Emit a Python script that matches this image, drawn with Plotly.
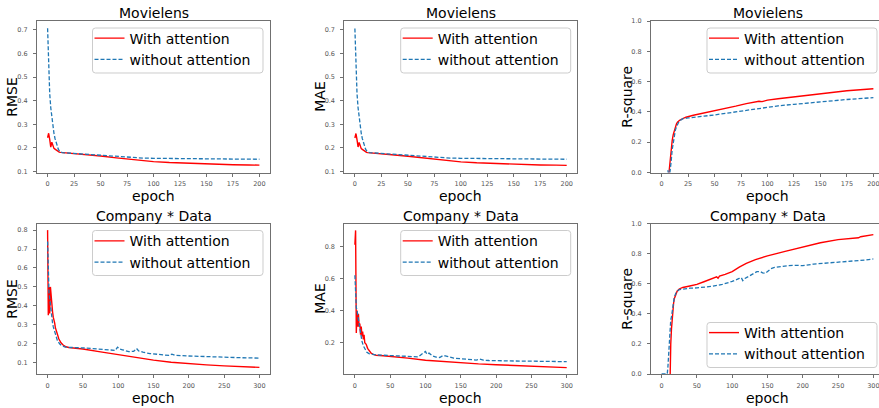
import plotly.graph_objects as go

# ---------------- data ----------------
# Movielens RMSE
ml_rmse_att_x = [0, 1, 2, 3, 4, 5, 6, 7, 8, 9, 10, 11, 12, 15, 20, 25, 35, 50, 65, 75, 90, 100, 115, 125, 140, 150, 165, 175, 190, 200]
ml_rmse_att_y = [0.243, 0.262, 0.236, 0.203, 0.224, 0.205, 0.198, 0.195, 0.191, 0.187, 0.184, 0.182, 0.181, 0.180, 0.179, 0.177, 0.172, 0.166, 0.158, 0.153, 0.146, 0.142, 0.138, 0.136, 0.133, 0.132, 0.130, 0.129, 0.128, 0.127]
ml_rmse_no_x = [0, 1, 2, 3, 4, 5, 6, 7, 8, 9, 10, 11, 12, 14, 17, 20, 25, 35, 50, 65, 75, 90, 100, 125, 150, 175, 200]
ml_rmse_no_y = [0.706, 0.52, 0.43, 0.37, 0.325, 0.29, 0.262, 0.24, 0.222, 0.207, 0.196, 0.188, 0.183, 0.180, 0.179, 0.178, 0.177, 0.174, 0.169, 0.164, 0.161, 0.157, 0.156, 0.154, 0.153, 0.153, 0.152]

# Movielens MAE
ml_mae_att_x = [0, 1, 2, 3, 4, 5, 6, 7, 8, 9, 10, 11, 12, 15, 20, 25, 35, 50, 65, 75, 90, 100, 115, 125, 140, 150, 165, 175, 190, 200]
ml_mae_att_y = [0.242, 0.261, 0.235, 0.204, 0.223, 0.204, 0.197, 0.194, 0.190, 0.186, 0.183, 0.181, 0.180, 0.179, 0.178, 0.176, 0.171, 0.165, 0.157, 0.152, 0.145, 0.141, 0.137, 0.135, 0.132, 0.131, 0.129, 0.128, 0.127, 0.126]
ml_mae_no_x = [0, 1, 2, 3, 4, 5, 6, 7, 8, 9, 10, 11, 12, 14, 17, 20, 25, 35, 50, 65, 75, 90, 100, 125, 150, 175, 200]
ml_mae_no_y = [0.705, 0.52, 0.43, 0.37, 0.325, 0.29, 0.262, 0.24, 0.222, 0.207, 0.196, 0.188, 0.183, 0.180, 0.179, 0.178, 0.177, 0.174, 0.169, 0.164, 0.161, 0.157, 0.156, 0.154, 0.153, 0.153, 0.152]

# Movielens R-square
ml_r2_att_x = [0, 4, 6, 7, 8, 9, 10, 11, 12, 13, 14, 15, 17, 20, 23, 30, 40, 50, 60, 70, 80, 88, 92, 95, 100, 110, 125, 150, 175, 200]
ml_r2_att_y = [-3.0, -1.0, -0.3, 0.0, 0.08, 0.15, 0.21, 0.25, 0.28, 0.305, 0.32, 0.332, 0.345, 0.355, 0.365, 0.378, 0.392, 0.405, 0.42, 0.438, 0.455, 0.468, 0.47, 0.468, 0.478, 0.487, 0.5, 0.522, 0.54, 0.553]
ml_r2_no_x = [0, 5, 6, 7, 8, 9, 10, 11, 12, 13, 14, 15, 16, 18, 20, 25, 30, 40, 50, 60, 75, 90, 100, 110, 125, 150, 175, 200]
ml_r2_no_y = [-3.0, -0.2, 0.015, -0.05, 0.0, 0.07, 0.15, 0.2, 0.25, 0.28, 0.3, 0.315, 0.33, 0.345, 0.355, 0.36, 0.365, 0.372, 0.38, 0.39, 0.407, 0.423, 0.433, 0.44, 0.45, 0.468, 0.482, 0.494]

# Company * Data RMSE
cd_rmse_att_x = [0, 1, 2, 3, 4, 5, 6, 7, 8, 9, 10, 11, 12, 14, 16, 19, 22, 26, 30, 40, 50, 75, 100, 125, 150, 175, 200, 225, 250, 275, 300]
cd_rmse_att_y = [0.80, 0.35, 0.50, 0.36, 0.50, 0.44, 0.40, 0.37, 0.34, 0.31, 0.31, 0.285, 0.27, 0.245, 0.225, 0.205, 0.193, 0.184, 0.180, 0.176, 0.172, 0.157, 0.141, 0.126, 0.113, 0.102, 0.094, 0.088, 0.083, 0.079, 0.075]
cd_rmse_no_x = [0, 1, 2, 3, 4, 5, 6, 7, 8, 9, 10, 12, 14, 17, 20, 25, 30, 40, 50, 60, 75, 90, 96, 99, 102, 106, 115, 122, 126, 129, 135, 145, 160, 172, 176, 180, 200, 225, 250, 275, 300]
cd_rmse_no_y = [0.74, 0.55, 0.47, 0.44, 0.40, 0.36, 0.34, 0.31, 0.29, 0.275, 0.26, 0.235, 0.215, 0.2, 0.19, 0.182, 0.18, 0.179, 0.178, 0.175, 0.171, 0.163, 0.165, 0.182, 0.172, 0.168, 0.158, 0.160, 0.175, 0.162, 0.155, 0.148, 0.141, 0.138, 0.145, 0.139, 0.135, 0.131, 0.128, 0.126, 0.124]

# Company * Data MAE
cd_mae_att_x = [0, 1, 2, 3, 4, 5, 6, 7, 8, 9, 10, 11, 12, 13, 14, 16, 18, 20, 23, 26, 30, 40, 50, 75, 100, 125, 150, 175, 200, 225, 250, 275, 300]
cd_mae_att_y = [0.81, 0.90, 0.26, 0.40, 0.30, 0.38, 0.30, 0.32, 0.25, 0.30, 0.24, 0.27, 0.22, 0.25, 0.20, 0.19, 0.165, 0.15, 0.135, 0.127, 0.122, 0.119, 0.116, 0.104, 0.091, 0.082, 0.074, 0.068, 0.063, 0.058, 0.053, 0.049, 0.045]
cd_mae_no_x = [0, 1, 2, 3, 4, 5, 6, 7, 8, 9, 10, 12, 14, 17, 20, 25, 30, 40, 50, 60, 75, 90, 95, 98, 100, 102, 105, 110, 115, 120, 125, 128, 132, 140, 150, 165, 172, 177, 182, 190, 200, 225, 250, 275, 300]
cd_mae_no_y = [0.62, 0.5, 0.42, 0.40, 0.37, 0.33, 0.30, 0.27, 0.245, 0.23, 0.21, 0.18, 0.16, 0.14, 0.132, 0.127, 0.124, 0.122, 0.120, 0.118, 0.114, 0.112, 0.13, 0.14, 0.145, 0.128, 0.135, 0.118, 0.11, 0.108, 0.12, 0.118, 0.112, 0.104, 0.10, 0.095, 0.092, 0.097, 0.091, 0.089, 0.087, 0.086, 0.085, 0.083, 0.082]

# Company * Data R-square
cd_r2_att_x = [0, 10, 11, 12, 13, 14, 15, 16, 17, 18, 20, 22, 25, 30, 40, 50, 60, 70, 75, 78, 80, 82, 90, 100, 110, 120, 133, 150, 175, 200, 225, 250, 265, 275, 279, 282, 290, 300]
cd_r2_att_y = [-3.0, -0.5, -0.05, 0.08, 0.2, 0.3, 0.38, 0.43, 0.47, 0.5, 0.53, 0.55, 0.565, 0.575, 0.585, 0.595, 0.613, 0.632, 0.642, 0.645, 0.636, 0.65, 0.662, 0.68, 0.71, 0.735, 0.76, 0.785, 0.815, 0.845, 0.872, 0.893, 0.90, 0.902, 0.905, 0.912, 0.918, 0.926]
cd_r2_no_x = [0, 5, 8, 9, 10, 11, 12, 13, 14, 15, 16, 18, 20, 22, 25, 30, 40, 50, 60, 72, 86, 100, 110, 113, 115, 118, 122, 130, 135, 140, 143, 147, 150, 155, 160, 170, 180, 190, 200, 215, 230, 255, 275, 290, 300]
cd_r2_no_y = [0.0, 0.0, 0.0, 0.05, 0.15, 0.25, 0.3, 0.36, 0.38, 0.42, 0.46, 0.51, 0.535, 0.55, 0.56, 0.565, 0.57, 0.572, 0.576, 0.583, 0.595, 0.615, 0.635, 0.64, 0.62, 0.635, 0.645, 0.665, 0.68, 0.68, 0.672, 0.67, 0.68, 0.7, 0.708, 0.715, 0.72, 0.722, 0.72, 0.73, 0.735, 0.745, 0.752, 0.758, 0.765]

titles = ["Movielens", "Movielens", "Movielens", "Company * Data", "Company * Data", "Company * Data"]
ylabels = ["RMSE", "MAE", "R-square", "RMSE", "MAE", "R-square"]
xlabel = "epoch"
series_names = ["With attention", "without attention"]

xt_top = [0, 25, 50, 75, 100, 125, 150, 175, 200]
xt_bot = [0, 50, 100, 150, 200, 250, 300]
yt_err_top = [0.1, 0.2, 0.3, 0.4, 0.5, 0.6, 0.7]
yt_rmse_bot = [0.1, 0.2, 0.3, 0.4, 0.5, 0.6, 0.7, 0.8]
yt_mae_bot = [0.2, 0.4, 0.6, 0.8]
yt_r2 = [0.0, 0.2, 0.4, 0.6, 0.8, 1.0]

# ---------------- layout helpers ----------------
W, H = 879, 408
FONT = "DejaVu Sans"
RED = "#ff0000"
BLUE = "#1f77b4"
SPINE = "#707070"

def fx(p):
    return p / W

def fy(p):
    return 1 - p / H

def round_box(x0, y0, x1, y1, r=3):
    # rounded rectangle path in paper coordinates (pixel inputs)
    pts = [
        ("M", x0 + r, y0), ("L", x1 - r, y0), ("Q", x1, y0, x1, y0 + r),
        ("L", x1, y1 - r), ("Q", x1, y1, x1 - r, y1), ("L", x0 + r, y1),
        ("Q", x0, y1, x0, y1 - r), ("L", x0, y0 + r), ("Q", x0, y0, x0 + r, y0),
    ]
    out = []
    for cmd in pts:
        c = cmd[0]
        vals = cmd[1:]
        coords = []
        for k in range(0, len(vals), 2):
            coords.append("%.5f,%.5f" % (fx(vals[k]), fy(vals[k + 1])))
        out.append(c + " " + " ".join(coords))
    return " ".join(out) + " Z"

cols = [(37, 270), (344.3, 577.3), (651, 879)]
rows = [(21, 172.5), (223.5, 374)]

panels = [
    dict(att=(ml_rmse_att_x, ml_rmse_att_y), no=(ml_rmse_no_x, ml_rmse_no_y), c=0, r=0,
         xr=[-10, 210], yr=[0.096, 0.737], xt=xt_top, yt=yt_err_top, box=(92.5, 28, 263, 73), e1=39.5),
    dict(att=(ml_mae_att_x, ml_mae_att_y), no=(ml_mae_no_x, ml_mae_no_y), c=1, r=0,
         xr=[-10, 210], yr=[0.096, 0.737], xt=xt_top, yt=yt_err_top, box=(400.7, 28, 570.7, 73), e1=39.5),
    dict(att=(ml_r2_att_x, ml_r2_att_y), no=(ml_r2_no_x, ml_r2_no_y), c=2, r=0,
         xr=[-10, 205.3], yr=[0, 1], xt=xt_top, yt=yt_r2, box=(707, 28, 877, 73), e1=39.5),
    dict(att=(cd_rmse_att_x, cd_rmse_att_y), no=(cd_rmse_no_x, cd_rmse_no_y), c=0, r=1,
         xr=[-15, 315], yr=[0.040, 0.835], xt=xt_bot, yt=yt_rmse_bot, box=(92.5, 230.5, 263, 275.5), e1=242.3),
    dict(att=(cd_mae_att_x, cd_mae_att_y), no=(cd_mae_no_x, cd_mae_no_y), c=1, r=1,
         xr=[-15, 315], yr=[0.005, 0.943], xt=xt_bot, yt=yt_mae_bot, box=(400.7, 230.5, 570.7, 275.5), e1=242.3),
    dict(att=(cd_r2_att_x, cd_r2_att_y), no=(cd_r2_no_x, cd_r2_no_y), c=2, r=1,
         xr=[-15, 308], yr=[0, 1], xt=xt_bot, yt=yt_r2, box=(707, 322.5, 877, 367.5), e1=334),
]

fig = go.Figure()
layout = dict(
    width=W, height=H, margin=dict(l=0, r=0, t=0, b=0, autoexpand=False),
    paper_bgcolor="white", plot_bgcolor="white",
    font=dict(family=FONT, color="black"),
    annotations=[], shapes=[],
)

for i, p in enumerate(panels):
    n = i + 1
    sfx = "" if n == 1 else str(n)
    xa, ya = "x" + sfx, "y" + sfx
    legname = "legend" + sfx
    fig.add_trace(go.Scatter(x=p["att"][0], y=p["att"][1], mode="lines", name=series_names[0],
                             line=dict(color=RED, width=1.4), xaxis=xa, yaxis=ya, legend=legname))
    fig.add_trace(go.Scatter(x=p["no"][0], y=p["no"][1], mode="lines", name=series_names[1],
                             line=dict(color=BLUE, width=1.3, dash="4px,2px"), xaxis=xa, yaxis=ya, legend=legname))
    x0, x1 = cols[p["c"]]
    y0, y1 = rows[p["r"]]
    right_col = p["c"] == 2
    tickfont = dict(family=FONT, size=6.5, color="#555555")
    layout["xaxis" + sfx] = dict(
        domain=[fx(x0), fx(x1)], range=p["xr"], anchor=ya,
        tickvals=p["xt"], ticktext=[str(v) for v in p["xt"]],
        showgrid=False, zeroline=False, showline=True, linecolor=SPINE, linewidth=1,
        mirror=True, ticks="outside", ticklen=3, tickcolor=SPINE, tickfont=tickfont,
        ticklabelstandoff=2, ticklabeloverflow="allow",
    )
    layout["yaxis" + sfx] = dict(
        domain=[fy(y1), fy(y0)], range=p["yr"], anchor=xa,
        tickvals=p["yt"], ticktext=["%.1f" % v for v in p["yt"]],
        showgrid=False, zeroline=False, showline=True, linecolor=SPINE, linewidth=1,
        mirror=(not right_col), ticks="outside", ticklen=3, tickcolor=SPINE, tickfont=tickfont,
        ticklabelstandoff=4,
    )
    bx0, by0, bx1, by1 = p["box"]
    layout["shapes"].append(dict(
        type="path", path=round_box(bx0, by0, bx1, by1), xref="paper", yref="paper",
        fillcolor="rgba(255,255,255,0.8)", line=dict(color="#cccccc", width=1), layer="above"))
    layout[legname] = dict(
        x=fx(bx0 - 3), y=fy(p["e1"] - 17), xanchor="left", yanchor="top",
        bgcolor="rgba(0,0,0,0)", borderwidth=0,
        font=dict(family=FONT, size=14, color="black"),
    )
    # title, ylabel, xlabel
    full_right = x0 + 233 if right_col else x1
    cx = (x0 + full_right) / 2
    ty = 12.5 if p["r"] == 0 else 215.5
    layout["annotations"].append(dict(
        text=titles[i], x=fx(cx), y=fy(ty), xref="paper", yref="paper",
        xanchor="center", yanchor="middle", showarrow=False,
        font=dict(family=FONT, size=14, color="black")))
    ylx = [12, 320, 627][p["c"]]
    layout["annotations"].append(dict(
        text=ylabels[i], x=fx(ylx), y=fy((y0 + y1) / 2), xref="paper", yref="paper",
        xanchor="center", yanchor="middle", showarrow=False, textangle=-90,
        font=dict(family=FONT, size=14, color="black")))
    exy = 196 if p["r"] == 0 else 397.5
    layout["annotations"].append(dict(
        text=xlabel, x=fx(cx), y=fy(exy), xref="paper", yref="paper",
        xanchor="center", yanchor="middle", showarrow=False,
        font=dict(family=FONT, size=14, color="black")))

fig.update_layout(**layout)
fig.write_html("out.html", config={"displayModeBar": False},
               post_script="document.body.style.margin='0';document.body.style.overflow='hidden';")
